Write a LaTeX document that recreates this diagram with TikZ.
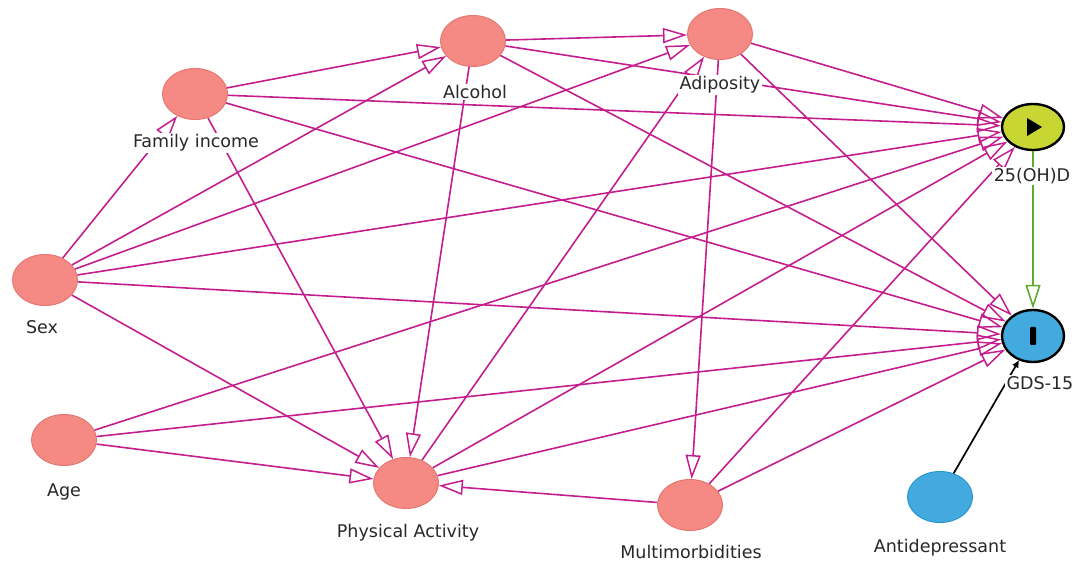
\documentclass[tikz,border=0pt]{standalone}
\usepackage{fontspec}
\setmainfont{DejaVu Sans}
\usetikzlibrary{arrows.meta,shapes.geometric,calc}
\definecolor{nodepink}{RGB}{245,138,132}
\definecolor{nodepinkline}{RGB}{230,118,112}
\definecolor{edgemag}{RGB}{196,30,142}
\definecolor{exposure}{RGB}{200,214,52}
\definecolor{outcome}{RGB}{66,170,222}
\definecolor{outcomeline}{RGB}{40,150,205}
\definecolor{causal}{RGB}{96,170,50}
\definecolor{labeltext}{RGB}{40,40,40}
\tikzset{
  var/.style={ellipse, minimum width=65pt, minimum height=51pt, inner sep=0pt,
              fill=nodepink, draw=nodepinkline, line width=1pt},
  expvar/.style={var, fill=exposure, draw=black, line width=2.4pt,
                 minimum width=62pt, minimum height=46pt},
  outvar/.style={var, fill=outcome, draw=black, line width=2.4pt,
                 minimum width=62pt, minimum height=52pt},
  adjvar/.style={var, fill=outcome, draw=outcomeline, line width=1pt},
  lbl/.style={fill=white, inner sep=1.5pt, text=labeltext,
              font=\fontsize{17.5}{19}\selectfont},
  magedge/.style={draw=edgemag, line width=1.6pt,
               -{Triangle[open, length=24pt, width=15pt, line width=1.5pt]}},
  causaledge/.style={draw=causal, line width=1.7pt,
               -{Triangle[open, length=24pt, width=15pt, line width=1.6pt]}},
  plainedge/.style={draw=black, line width=1.7pt,
               -{Triangle[length=7pt, width=6pt]}},
}
\begin{document}
\begin{tikzpicture}[x=1pt, y=-1pt]
\useasboundingbox (0,0) rectangle (1072,564);

% variables
\node[var] (fi)    at (195,94)  {};
\node[var] (alc)   at (473,41)  {};
\node[var] (adi)   at (720,34)  {};
\node[expvar] (vd) at (1033,127) {};
\node[var] (sex)   at (45,280)  {};
\node[outvar] (gds) at (1033,336) {};
\node[var] (age)   at (64,440)  {};
\node[var] (pa)    at (406,483) {};
\node[var] (mm)    at (690,505) {};
\node[adjvar] (ad) at (940,497) {};

% symbols inside exposure and outcome
\fill[black] ($(vd)+(-6,-9)$) -- ($(vd)+(9,0)$) -- ($(vd)+(-6,9)$) -- cycle;
\fill[black, rounded corners=1pt] ($(gds)+(-3,-9)$) rectangle ($(gds)+(3,9)$);

% arrows
\foreach \s/\t in {fi/alc, fi/vd, fi/gds, fi/pa,
                   sex/fi, sex/alc, sex/adi, sex/vd, sex/gds, sex/pa,
                   alc/adi, alc/vd, alc/gds, alc/pa,
                   adi/vd, adi/gds, adi/mm,
                   age/pa, age/vd, age/gds,
                   pa/adi, pa/vd, pa/gds,
                   mm/pa, mm/vd, mm/gds}
  \draw[magedge] (\s) -- (\t);
\draw[causaledge] (vd) -- (gds);
\draw[plainedge] (ad) -- (gds);

% labels
\node[lbl] (lfi)  at (196,143) {Family income};
\node[lbl] (lalc) at (475,92)  {Alcohol};
\node[lbl] (ladi) at (720,85)  {Adiposity};
\node[lbl] (lvd)  at (1032,176) {25(OH)D};
\node[lbl] (lsex) at (42,327)  {Sex};
\node[lbl] (lgds) at (1040,383) {GDS-15};
\node[lbl] (lage) at (64,492)  {Age};
\node[lbl] (lpa)  at (408,533) {Physical Activity};
\node[lbl] (lmm)  at (691,552) {Multimorbidities};
\node[lbl] (lad)  at (940,548) {Antidepressant};
\end{tikzpicture}
\end{document}
